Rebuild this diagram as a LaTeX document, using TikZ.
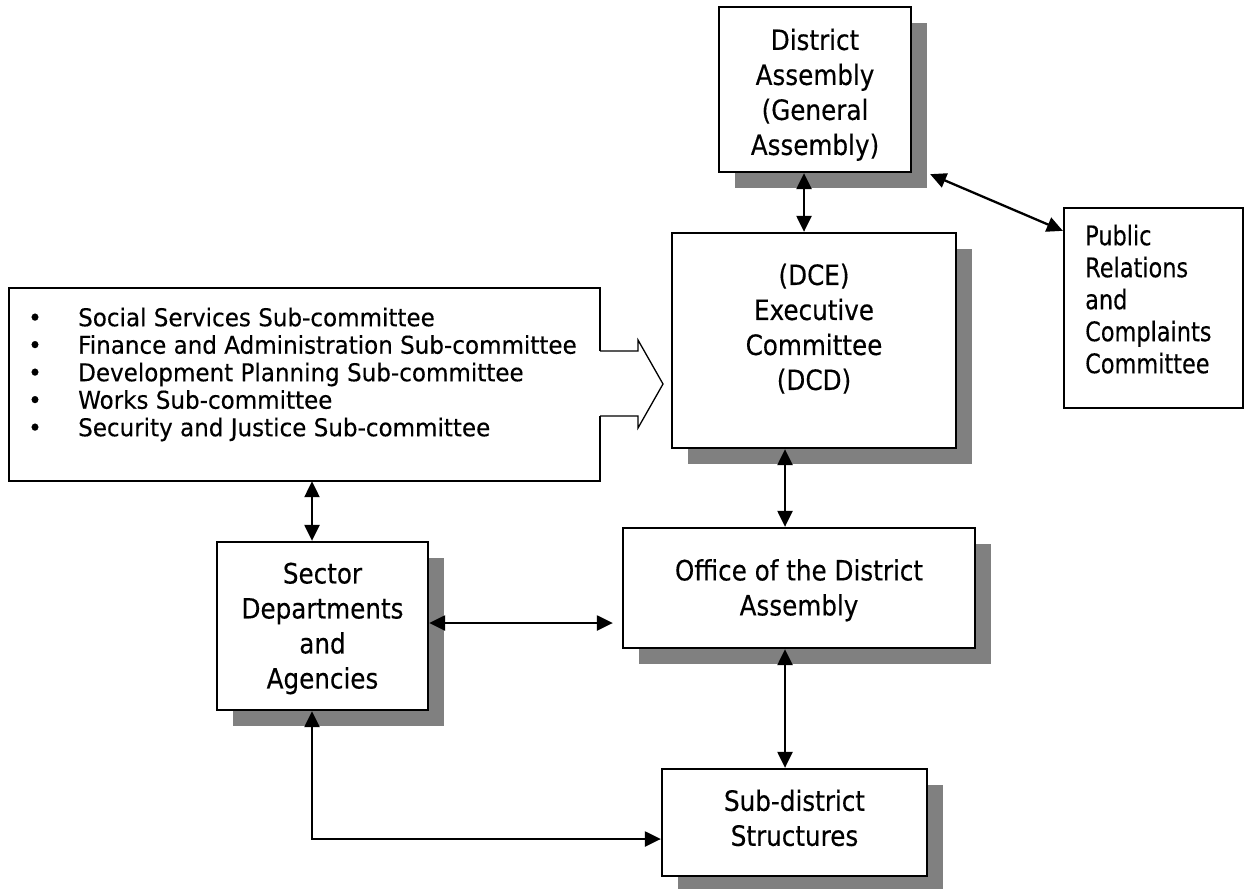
\documentclass[tikz,border=0pt]{standalone}
\usepackage{fontspec}
\setmainfont{DejaVu Sans}[FakeStretch=0.88,FakeBold=0.3]
\newfontfamily\prfont{DejaVu Sans}[FakeStretch=0.83,FakeBold=0.3]
\newfontfamily\listfont{DejaVu Sans}[FakeStretch=0.94,FakeBold=0.3]
\usetikzlibrary{arrows.meta,shadows}
\begin{document}
\begin{tikzpicture}[x=1pt,y=-1pt,
  box/.style={draw, line width=2.3pt, fill=white, inner sep=0pt},
  shbox/.style={box, drop shadow={fill=black!50, opacity=1, shadow xshift=16pt, shadow yshift=-16pt}},
  txt/.style={inner sep=0pt, align=center, font=\fontsize{28}{35}\selectfont},
  biarr/.style={{Triangle[length=16pt,width=15pt]}-{Triangle[length=16pt,width=15pt]}, line width=2.3pt}
]
\useasboundingbox (0,0) rectangle (1246,888);
\fill[white] (0,0) rectangle (1246,888);

% boxes
\node[shbox, minimum width=192pt, minimum height=165pt] (da) at (815,89.5) {};
\node[shbox, minimum width=284pt, minimum height=215pt] (exec) at (814,340.5) {};
\node[box, minimum width=179pt, minimum height=200pt] (pr) at (1153.5,308) {};
\node[shbox, minimum width=352pt, minimum height=120pt] (office) at (799,588) {};
\node[shbox, minimum width=211pt, minimum height=168pt] (sector) at (322.5,626) {};
\node[shbox, minimum width=265pt, minimum height=107pt] (sub) at (794.5,822.5) {};

% callout box with arrow
\node[inner sep=0pt, minimum width=591pt, minimum height=193pt] (subs) at (304.5,384.5) {};
\fill[white] (9,288) -- (600,288) -- (600,351) -- (638,351) -- (638,340) -- (663,384) -- (638,428) -- (638,416) -- (600,416) -- (600,481) -- (9,481) -- cycle;
\draw[line width=1.3pt, line join=miter] (600,351) -- (638,351) -- (638,340) -- (663,384) -- (638,428) -- (638,416) -- (600,416);
\draw[line width=2.3pt, line join=miter] (600,351) -- (600,288) -- (9,288) -- (9,481) -- (600,481) -- (600,416);

% texts
\node[txt] (tda) at (815,94.7) {District\\Assembly\\(General\\Assembly)};
\node[txt] (texec) at (814,328.7) {(DCE)\\Executive\\Committee\\(DCD)};
\node[txt] (toffice) at (799,590.2) {Office of the District\\Assembly};
\node[txt] (tsector) at (322.5,628.5) {Sector\\Departments\\and\\Agencies};
\node[txt] (tsub) at (794.5,817.9) {Sub-district\\Structures};
\node[inner sep=0pt, align=left, anchor=north west, font=\prfont\fontsize{27}{32}\selectfont] (tpr) at (1085,224.5)
  {Public\\Relations\\and\\Complaints\\Committee};
\node[inner sep=0pt, align=left, anchor=north west, font=\listfont\fontsize{24.5}{27.5}\selectfont] (tsubs) at (28,307.4)
  {\makebox[50pt][l]{•}Social Services Sub-committee\\
   \makebox[50pt][l]{•}Finance and Administration Sub-committee\\
   \makebox[50pt][l]{•}Development Planning Sub-committee\\
   \makebox[50pt][l]{•}Works Sub-committee\\
   \makebox[50pt][l]{•}Security and Justice Sub-committee};

% helper coordinates
\coordinate (colA) at (785,0);
\coordinate (colB) at (312,0);
\coordinate (colC) at (804,0);
\coordinate (rowA) at (0,623);
\coordinate (rowB) at (0,839);
\coordinate (daP) at ([xshift=18pt,yshift=-1pt]da.south east);
\coordinate (prP) at ([yshift=-24pt]pr.north west);

% connectors
\draw[biarr] (da.south -| colC) -- (exec.north -| colC);
\draw[biarr] (daP) -- (prP);
\draw[biarr] (exec.south -| colA) -- (office.north -| colA);
\draw[biarr] (subs.south -| colB) -- (sector.north -| colB);
\draw[biarr, shorten >=9pt] (sector.east |- rowA) -- (office.west |- rowA);
\draw[biarr] (office.south -| colA) -- (sub.north -| colA);
\draw[biarr] (sector.south -| colB) |- (sub.west |- rowB);
\end{tikzpicture}
\end{document}
